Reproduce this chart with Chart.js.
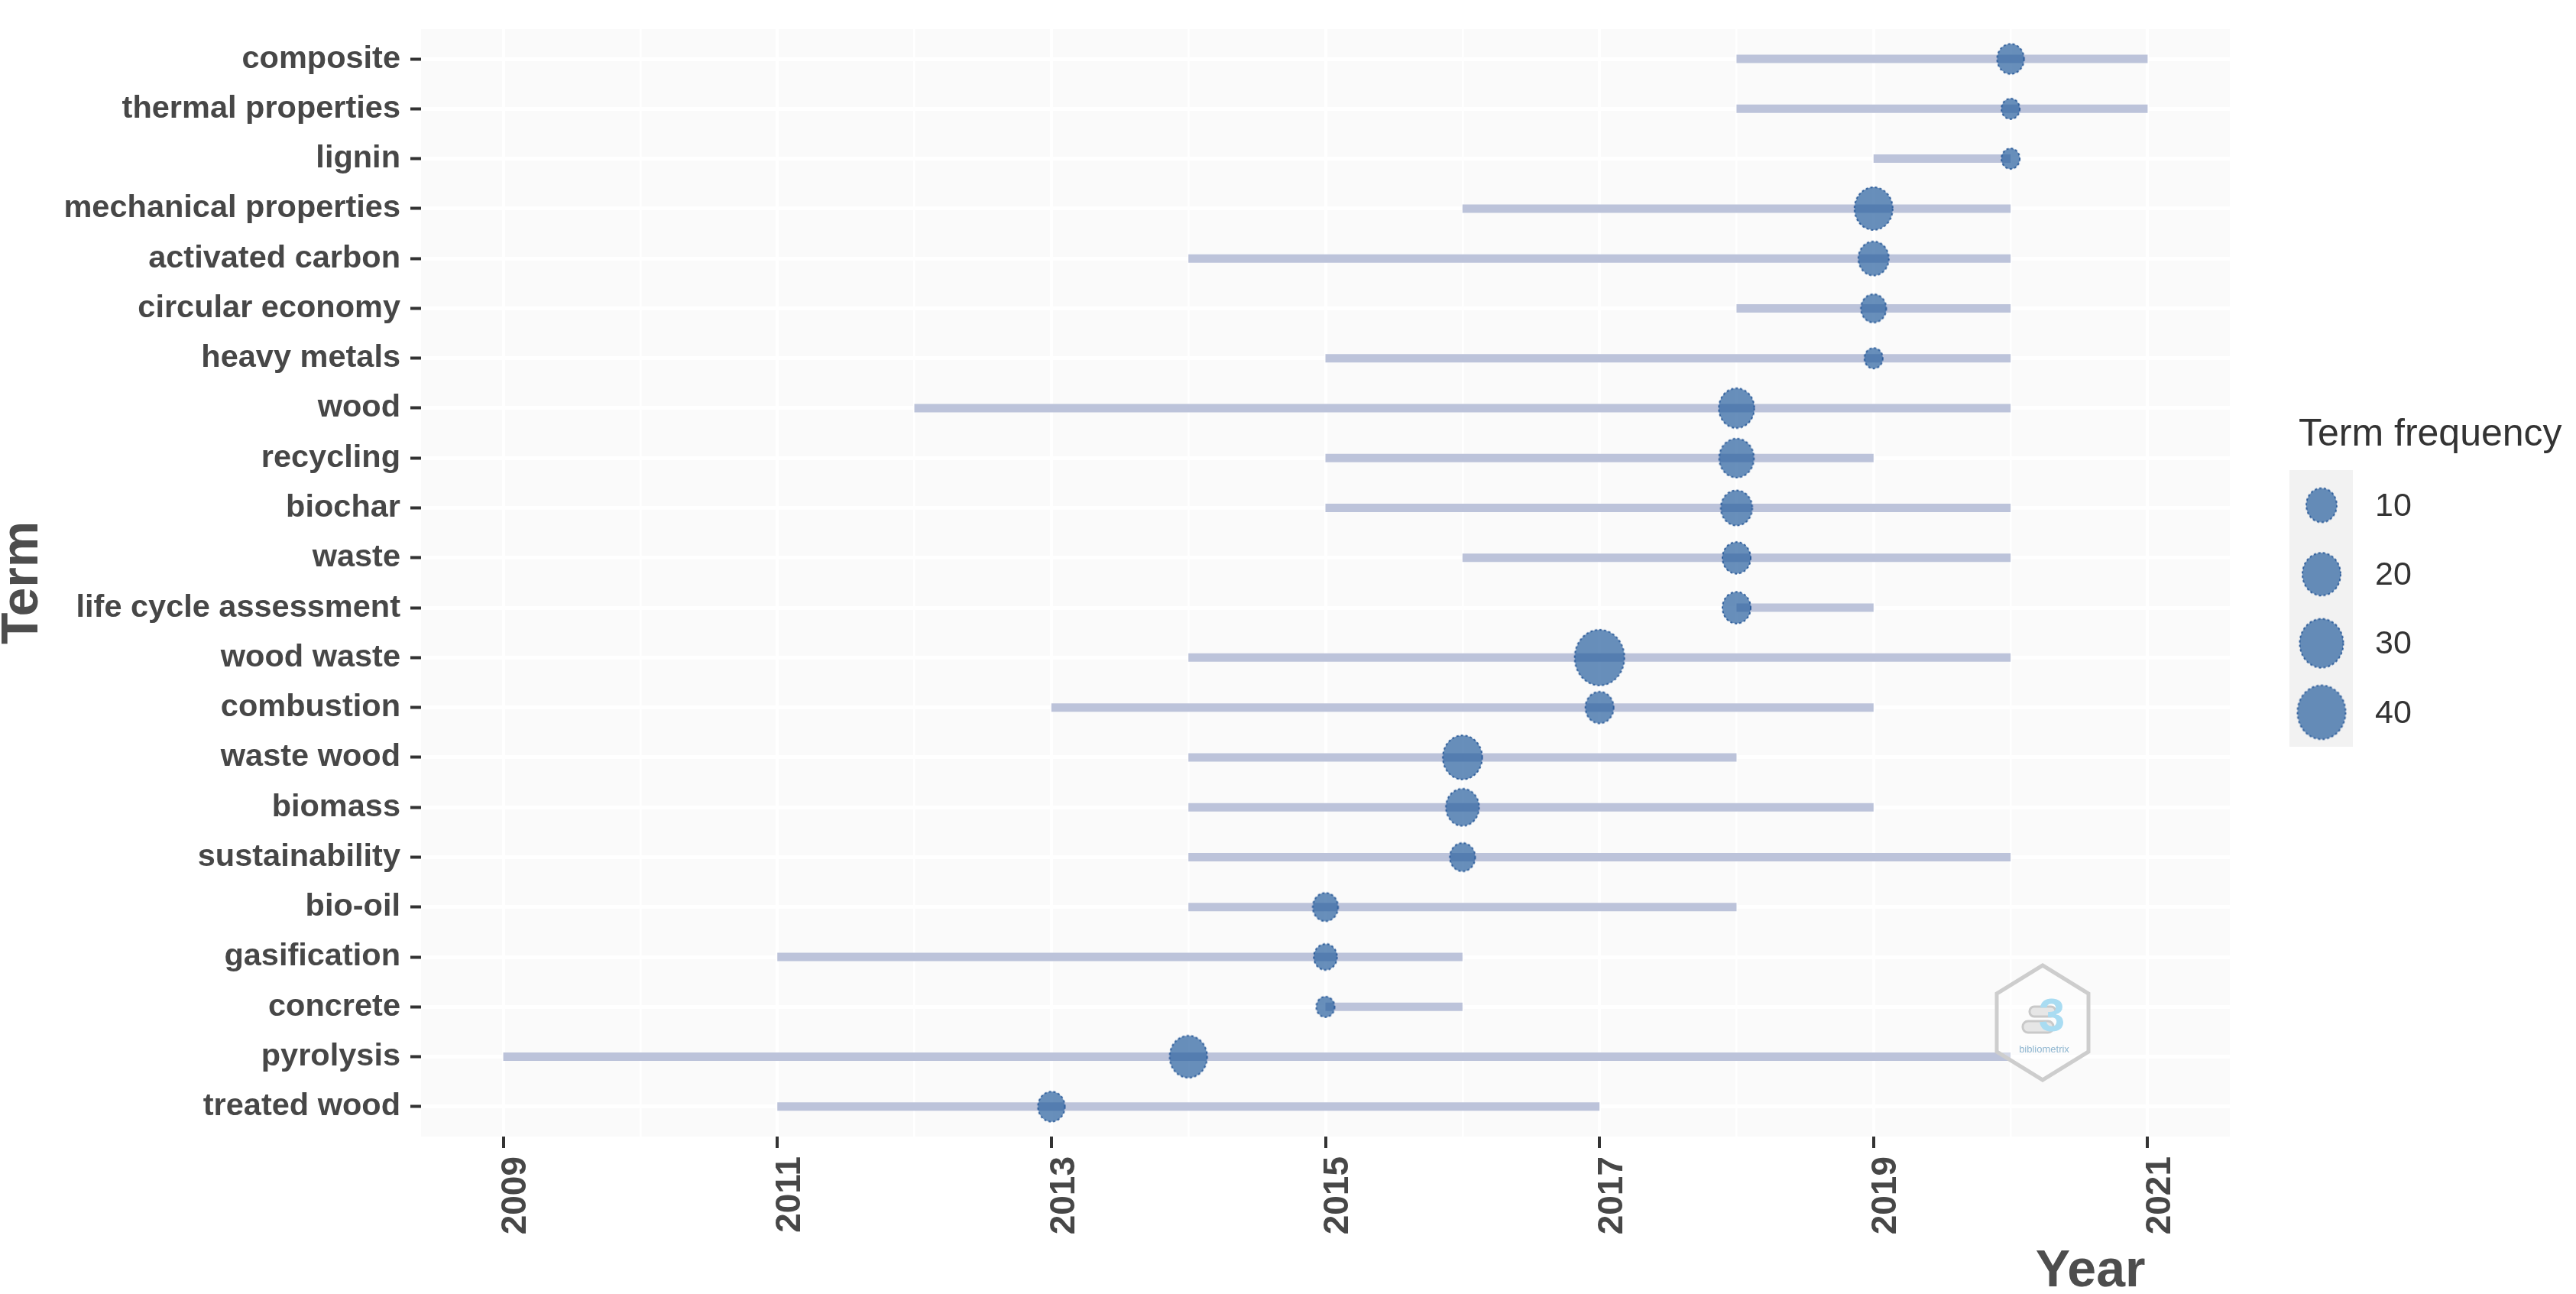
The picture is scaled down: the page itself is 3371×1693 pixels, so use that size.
<!DOCTYPE html>
<html>
<head>
<meta charset="utf-8">
<title>Trend topics</title>
<script src="https://cdn.jsdelivr.net/npm/chart.js@4.4.1/dist/chart.umd.min.js"></script>
<style>
  html, body { margin: 0; padding: 0; background: #ffffff; }
  #wrap { width: 3371px; height: 1693px; position: relative; }
</style>
</head>
<body>
<div id="wrap"><canvas id="trendChart"></canvas></div>
<script>
// terms from top to bottom
const terms = [
    "composite", "thermal properties", "lignin", "mechanical properties",
    "activated carbon", "circular economy", "heavy metals", "wood",
    "recycling", "biochar", "waste", "life cycle assessment",
    "wood waste", "combustion", "waste wood", "biomass",
    "sustainability", "bio-oil", "gasification", "concrete",
    "pyrolysis", "treated wood"
];
// first quartile year, median year, third quartile year
const yearQ1 = [2018, 2018, 2019, 2016, 2014, 2018, 2015, 2012, 2015, 2015, 2016, 2018,
                2014, 2013, 2014, 2014, 2014, 2014, 2011, 2015, 2009, 2011];
const yearMedian = [2020, 2020, 2020, 2019, 2019, 2019, 2019, 2018, 2018, 2018, 2018, 2018,
                    2017, 2017, 2016, 2016, 2016, 2015, 2015, 2015, 2014, 2013];
const yearQ3 = [2021, 2021, 2020, 2020, 2020, 2020, 2020, 2020, 2019, 2020, 2020, 2019,
                2020, 2019, 2018, 2019, 2020, 2018, 2016, 2016, 2020, 2017];
const termFreq = [7, 4, 4, 20, 10, 6, 4, 16, 15, 11, 8, 8,
                  44, 8, 22, 13, 6, 6, 5, 4, 19, 7];

const yearTicks = [2009, 2010, 2011, 2012, 2013, 2014, 2015, 2016, 2017, 2018, 2019, 2020, 2021];
const legendBreaks = [10, 20, 30, 40];

const fontFamily = "'Liberation Sans', Arial, sans-serif";
const axisTextColor = "#474747";

// size scale like ggplot scale_size (area)
const fMin = Math.min(...termFreq);
const fMax = Math.max(...termFreq);
function bubbleWidth(freq) {
    return 24 + 41 * Math.sqrt((freq - fMin) / (fMax - fMin));
}

let bubbleCache = {};
function bubble(freq) {
    if (bubbleCache[freq]) return bubbleCache[freq];
    let w = bubbleWidth(freq);
    let h = w * 1.12;
    let c = document.createElement("canvas");
    c.width = Math.ceil(w + 4);
    c.height = Math.ceil(h + 4);
    let g = c.getContext("2d");
    g.beginPath();
    g.ellipse(c.width / 2, c.height / 2, w / 2, h / 2, 0, 0, 2 * Math.PI);
    g.fillStyle = "rgba(40,96,158,0.7)";
    g.fill();
    g.setLineDash([3, 3]);
    g.lineWidth = 2;
    g.strokeStyle = "rgba(35,85,150,0.9)";
    g.stroke();
    bubbleCache[freq] = c;
    return c;
}

const isMajor = v => v % 2 === 1;

const lineDatasets = terms.map(function (t, i) {
    return {
        type: "line",
        label: t,
        data: [{x: yearQ1[i], y: i}, {x: yearQ3[i], y: i}],
        borderColor: "#bcc3da",
        borderWidth: 11,
        borderCapStyle: "butt",
        pointRadius: 0,
        fill: false,
        order: 1
    };
});

const pointDataset = {
    type: "scatter",
    label: "Term frequency",
    data: terms.map((t, i) => ({x: yearMedian[i], y: i})),
    pointStyle: ctx => bubble(termFreq[ctx.dataIndex]),
    pointRadius: ctx => bubbleWidth(termFreq[ctx.dataIndex]) / 2,
    order: 0
};

const panelPlugin = {
    id: "panel",
    beforeDraw(chart) {
        const {ctx, chartArea} = chart;
        ctx.save();
        ctx.fillStyle = "#fafafa";
        ctx.fillRect(chartArea.left, chartArea.top, chartArea.right - chartArea.left, chartArea.bottom - chartArea.top);
        ctx.restore();
    }
};

const watermarkPlugin = {
    id: "watermark",
    afterDatasetsDraw(chart) {
        const {ctx, chartArea} = chart;
        let cx = chartArea.right - 245, cy = chartArea.bottom - 149;
        ctx.save();
        ctx.beginPath();
        ctx.moveTo(cx, cy - 75);
        ctx.lineTo(cx + 60, cy - 38);
        ctx.lineTo(cx + 60, cy + 38);
        ctx.lineTo(cx, cy + 75);
        ctx.lineTo(cx - 60, cy + 38);
        ctx.lineTo(cx - 60, cy - 38);
        ctx.closePath();
        ctx.fillStyle = "rgba(255,255,255,0.35)";
        ctx.fill();
        ctx.lineWidth = 5;
        ctx.strokeStyle = "#cdcdcd";
        ctx.stroke();
        // book pages
        ctx.fillStyle = "#e6e6e6";
        ctx.strokeStyle = "#c9c9c9";
        ctx.lineWidth = 3;
        ctx.beginPath();
        ctx.roundRect(cx - 17, cy - 21, 34, 13, 6);
        ctx.fill(); ctx.stroke();
        ctx.beginPath();
        ctx.roundRect(cx - 26, cy - 2, 40, 15, 7);
        ctx.fill(); ctx.stroke();
        ctx.fillStyle = "#a9dcf2";
        ctx.font = "bold 62px " + fontFamily;
        ctx.textAlign = "center";
        ctx.textBaseline = "middle";
        ctx.fillText("3", cx + 12, cy - 6);
        ctx.fillStyle = "#8fb6d0";
        ctx.font = "13px " + fontFamily;
        ctx.fillText("bibliometrix", cx + 2, cy + 35);
        ctx.restore();
    }
};

const textPlugin = {
    id: "texts",
    afterDraw(chart) {
        const {ctx, chartArea} = chart;
        const xs = chart.scales.x;
        ctx.save();
        // axis titles
        ctx.fillStyle = "#4d4d4d";
        ctx.font = "bold 68px " + fontFamily;
        ctx.textAlign = "center";
        ctx.textBaseline = "middle";
        ctx.translate(30, (chartArea.top + chartArea.bottom) / 2);
        ctx.rotate(-Math.PI / 2);
        ctx.fillText("Term", 0, 0);
        ctx.restore();

        ctx.save();
        ctx.fillStyle = "#4d4d4d";
        ctx.font = "bold 68px " + fontFamily;
        ctx.textAlign = "right";
        ctx.textBaseline = "alphabetic";
        ctx.fillText("Year", xs.getPixelForValue(2021) - 3, 1683);

        // size legend
        ctx.fillStyle = "#333333";
        ctx.font = "50px " + fontFamily;
        ctx.textAlign = "left";
        ctx.fillText("Term frequency", 3008, 583);
        ctx.fillStyle = "#f2f2f2";
        ctx.fillRect(2996, 615, 83, 362);
        ctx.font = "43px " + fontFamily;
        ctx.textBaseline = "middle";
        legendBreaks.forEach(function (b, k) {
            let img = bubble(b);
            let cy = 661 + k * 90.3;
            ctx.drawImage(img, 3038 - img.width / 2, cy - img.height / 2);
            ctx.fillStyle = "#333333";
            ctx.fillText(String(b), 3108, cy + 2);
        });
        ctx.restore();
    }
};

let c = document.getElementById("trendChart").getContext("2d");
let trendChart = new Chart(c, {
    type: "scatter",
    data: {
        datasets: [pointDataset].concat(lineDatasets)
    },
    options: {
        responsive: true,
        maintainAspectRatio: false,
        devicePixelRatio: 1,
        animation: false,
        layout: {padding: {left: 0, top: 23, right: 453, bottom: 0}},
        plugins: {
            legend: {display: false},
            tooltip: {enabled: false},
            title: {display: false}
        },
        scales: {
            x: {
                type: "linear",
                min: 2008.4,
                max: 2021.6,
                afterBuildTicks: function (scale) {
                    scale.ticks = yearTicks.map(v => ({value: v}));
                },
                afterFit: function (scale) {
                    scale.height = 206;
                },
                border: {display: false},
                grid: {
                    color: "#ffffff",
                    lineWidth: ctx => (ctx.tick && isMajor(ctx.tick.value)) ? 4 : 2.5,
                    tickColor: ctx => (ctx.tick && isMajor(ctx.tick.value)) ? "#333333" : "rgba(0,0,0,0)",
                    tickLength: 15,
                    tickWidth: 4
                },
                ticks: {
                    autoSkip: false,
                    minRotation: 90,
                    maxRotation: 90,
                    padding: 11,
                    labelOffset: 17,
                    color: axisTextColor,
                    font: {family: fontFamily, size: 46, weight: "bold"},
                    callback: v => isMajor(v) ? String(v) : ""
                }
            },
            y: {
                type: "linear",
                reverse: true,
                min: -0.6,
                max: terms.length - 0.4,
                afterBuildTicks: function (scale) {
                    scale.ticks = terms.map((t, i) => ({value: i}));
                },
                afterFit: function (scale) {
                    scale.width = 551;
                },
                border: {display: false},
                grid: {
                    color: "#ffffff",
                    lineWidth: 5,
                    tickColor: "#333333",
                    tickLength: 14,
                    tickWidth: 4
                },
                ticks: {
                    autoSkip: false,
                    padding: 13,
                    color: axisTextColor,
                    font: {family: fontFamily, size: 41.5, weight: "bold"},
                    callback: v => terms[v]
                }
            }
        }
    },
    plugins: [panelPlugin, watermarkPlugin, textPlugin]
});
</script>
</body>
</html>
